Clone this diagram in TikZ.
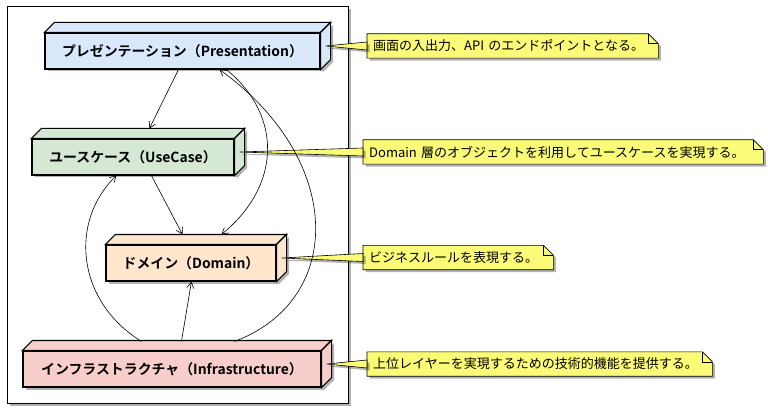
\documentclass[tikz,border=0pt]{standalone}
\usepackage{fontspec}
\setmainfont{Noto Sans CJK JP}[BoldFont={Noto Sans CJK JP Bold}]
\usetikzlibrary{arrows.meta,calc,shadows,backgrounds}
\definecolor{presblue}{HTML}{DAE8FC}
\definecolor{ucgreen}{HTML}{D5E8D4}
\definecolor{domorange}{HTML}{FFE6CC}
\definecolor{infrared}{HTML}{F8CECC}
\definecolor{memoyellow}{HTML}{FBFB77}

\begin{document}
\begin{tikzpicture}[
	x=1pt, y=-1pt,
	>={Straight Barb[length=6pt,width=7pt]},
	shd/.style={ drop shadow={shadow xshift=2.5pt, shadow yshift=-2.5pt, opacity=0.3, fill=black} },
	layer/.style={ draw, line width=1.1pt, fill=#1, shd, minimum height=36pt, inner sep=0pt, font=\fontsize{13.9}{16}\selectfont\bfseries },
	memo/.style={ anchor=west, minimum height=24pt, inner xsep=6pt, inner ysep=0pt, text width=#1, align=left, font=\fontsize{13}{15}\selectfont },
	link/.style={ ->, line width=0.6pt }
]
\useasboundingbox (0,0) rectangle (768,414);

% package frame
\draw[line width=1pt, fill=white, shd] (7,7) rectangle (348,403);

% layers (front faces)
\node at (182.5,51) (pres) [layer=presblue, minimum width=275pt] {プレゼンテーション（Presentation）};
\node at (133,157) (uc) [layer=ucgreen, minimum width=202pt] {ユースケース（UseCase）};
\node at (191,263) (dom) [layer=domorange, minimum width=170pt] {ドメイン（Domain）};
\node at (172,369) (infra) [layer=infrared, minimum width=298pt] {インフラストラクチャ（Infrastructure）};

% depth faces of the boxes
\foreach \n/\col in {pres/presblue, uc/ucgreen, dom/domorange, infra/infrared} {
	\draw[line width=1.1pt, fill=\col] (\n.north west) -- ++(10,-10) -- ($(\n.north east)+(10,-10)$) -- (\n.north east) -- cycle;
	\draw[line width=1.1pt, fill=\col, shd] (\n.north east) -- ++(10,-10) -- ($(\n.south east)+(10,-10)$) -- (\n.south east) -- cycle;
	\coordinate (\n-r) at ($(\n.east)+(5,-5)$);
}

% notes
\node at (367,46) (pres-note) [memo=279pt] {画面の入出力、API のエンドポイントとなる。};
\node at (363,152) (uc-note) [memo=388pt] {Domain 層のオブジェクトを利用してユースケースを実現する。};
\node at (363,257.5) (dom-note) [memo=178pt] {ビジネスルールを表現する。};
\node at (367,364) (infra-note) [memo=333pt] {上位レイヤーを実現するための技術的機能を提供する。};

\begin{scope}[on background layer]
\foreach \m in {pres-note, uc-note, dom-note, infra-note} {
	\draw[line width=0.6pt, fill=memoyellow, shd] (\m.north west) -- ($(\m.north east)+(-10,0)$) -- ($(\m.north east)+(0,10)$) -- (\m.south east) -- (\m.south west) -- cycle;
	\draw[line width=0.6pt] ($(\m.north east)+(-10,0)$) -- ($(\m.north east)+(-10,10)$) -- ($(\m.north east)+(0,10)$);
}
\end{scope}

\foreach \n in {pres, uc, dom, infra} {
	\draw[line width=0.6pt, fill=memoyellow, shd] (\n-r) -- ($(\n-note.west)+(0,-4)$) -- ($(\n-note.west)+(0,4)$) -- cycle;
}

% dependencies
\draw[link] ($(pres.south)+(-4,0)$) -- ($(uc.north west)+(118,-10)$);
\draw[link] ($(uc.south west)+(120,0)$) -- ($(dom.north west)+(77,-10)$);
\draw[link] ($(pres.south west)+(182,0)$) .. controls (282,115) and (282,185) .. ($(dom.north west)+(116,-10)$);
\draw[link] ($(infra.north west)+(212,-9)$) .. controls (345,300) and (345,160) .. ($(pres.south west)+(175,0)$);
\draw[link] ($(infra.north west)+(119,-9)$) .. controls (75,300) and (70,220) .. ($(uc.south west)+(85,0)$);
\draw[link] ($(infra.north west)+(159,-9)$) -- ($(dom.south west)+(86,0)$);

\end{tikzpicture}
\end{document}
